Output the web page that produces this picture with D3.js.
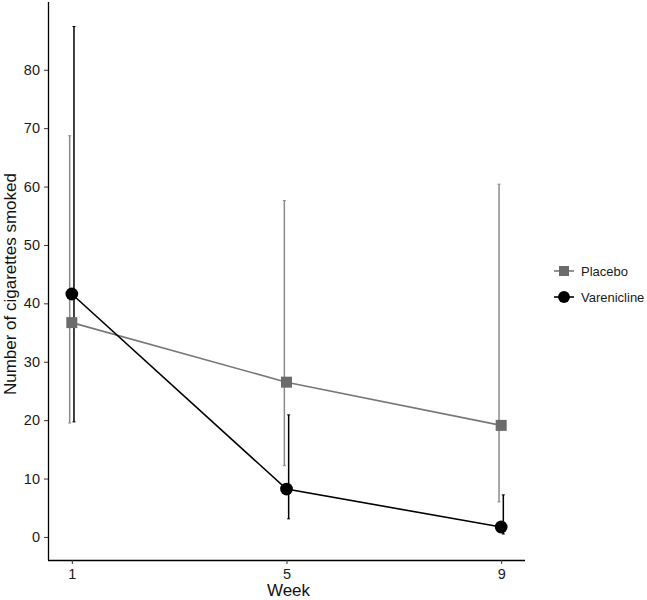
<!DOCTYPE html>
<html>
<head>
<meta charset="utf-8">
<script src="https://cdn.jsdelivr.net/npm/d3@7"></script>
<style>
  body { margin: 0; background: #fff; }
  text { font-family: "Liberation Sans", Arial, sans-serif; }
</style>
</head>
<body>
<div id="chart"></div>
<script>
// data
const weeks = [1, 5, 9];
const groups = ["Placebo", "Varenicline"];
const placeboMean = [36.7, 26.5, 19.1];
const placeboLow = [19.5, 12.2, 6.0];
const placeboHigh = [68.7, 57.6, 60.4];
const vareniclineMean = [41.6, 8.2, 1.7];
const vareniclineLow = [19.7, 3.1, 0.5];
const vareniclineHigh = [87.4, 20.9, 7.2];
const yTicks = [0, 10, 20, 30, 40, 50, 60, 70, 80];

const width = 647, height = 600;
const svg = d3.select("#chart").append("svg")
    .attr("width", width)
    .attr("height", height);

let x = d3.scaleLinear().domain([0.556, 9.444]).range([48, 525]);
let y = d3.scaleLinear().domain([-3.95, 91.6]).range([560, 2]);

let series = [
    {name: groups[0], mean: placeboMean, low: placeboLow, high: placeboHigh,
     line: "#777777", fill: "#6b6b6b", bar: "#8a8a8a", dodge: -0.04, shape: "square"},
    {name: groups[1], mean: vareniclineMean, low: vareniclineLow, high: vareniclineHigh,
     line: "#000000", fill: "#000000", bar: "#000000", dodge: 0.04, shape: "circle"}
];

// axes
let yAxis = svg.append("g").attr("transform", "translate(48,0)")
    .call(d3.axisLeft(y).tickValues(yTicks).tickSize(4).tickPadding(4));
let xAxis = svg.append("g").attr("transform", "translate(0,560)")
    .call(d3.axisBottom(x).tickValues(weeks).tickSize(4).tickPadding(5));
[yAxis, xAxis].forEach(a => {
    a.select(".domain").attr("stroke", "#000").attr("stroke-width", 1.3);
    a.selectAll(".tick line").attr("stroke", "#333").attr("stroke-width", 1);
    a.selectAll(".tick text").attr("fill", "#1a1a1a").style("font-size", "14.5px");
});
// remove end caps of the domain path
yAxis.select(".domain").attr("d", "M0.5," + y.range()[1] + "V" + y.range()[0]);
xAxis.select(".domain").attr("d", "M" + x.range()[0] + ",0.5H" + x.range()[1]);

svg.append("text")
    .attr("x", x(5) + 2).attr("y", 596)
    .attr("text-anchor", "middle")
    .style("font-size", "17px")
    .attr("fill", "#111")
    .text("Week");
svg.append("text")
    .attr("transform", "translate(16," + y(43.3) + ") rotate(-90)")
    .attr("text-anchor", "middle")
    .style("font-size", "17px")
    .attr("fill", "#111")
    .text("Number of cigarettes smoked");

// error bars
for (let s of series) {
    let g = svg.append("g");
    weeks.forEach((w, i) => {
        let bx = x(w + s.dodge);
        g.append("line")
            .attr("x1", bx).attr("x2", bx)
            .attr("y1", y(s.low[i])).attr("y2", y(s.high[i]))
            .attr("stroke", s.bar).attr("stroke-width", 1.5);
        [s.low[i], s.high[i]].forEach(v => {
            g.append("line")
                .attr("x1", bx - 1.5).attr("x2", bx + 1.5)
                .attr("y1", y(v)).attr("y2", y(v))
                .attr("stroke", s.bar).attr("stroke-width", 1);
        });
    });
}

// lines and points
let line = d3.line().x(d => x(d[0])).y(d => y(d[1]));
for (let s of series) {
    let pts = weeks.map((w, i) => [w, s.mean[i]]);
    svg.append("path")
        .datum(pts)
        .attr("d", line)
        .attr("fill", "none")
        .attr("stroke", s.line)
        .attr("stroke-width", 1.6);
    let sym = d3.symbol().type(s.shape == "square" ? d3.symbolSquare : d3.symbolCircle)
        .size(s.shape == "square" ? 121 : 128);
    svg.selectAll(null).data(pts).enter().append("path")
        .attr("transform", d => "translate(" + x(d[0]) + "," + y(d[1]) + ")")
        .attr("d", sym)
        .attr("fill", s.fill);
}

// legend
let legend = svg.append("g").attr("transform", "translate(554,271)");
series.forEach((s, i) => {
    let row = legend.append("g").attr("transform", "translate(0," + (i * 26) + ")");
    row.append("line")
        .attr("x1", 0).attr("x2", 20)
        .attr("stroke", s.line).attr("stroke-width", 1.6);
    row.append("path")
        .attr("transform", "translate(10,0)")
        .attr("d", d3.symbol().type(s.shape == "square" ? d3.symbolSquare : d3.symbolCircle)
            .size(s.shape == "square" ? 100 : 110))
        .attr("fill", s.fill);
    row.append("text")
        .attr("x", 27).attr("y", 5)
        .style("font-size", "13px")
        .attr("fill", "#1a1a1a")
        .text(s.name);
});
</script>
</body>
</html>
